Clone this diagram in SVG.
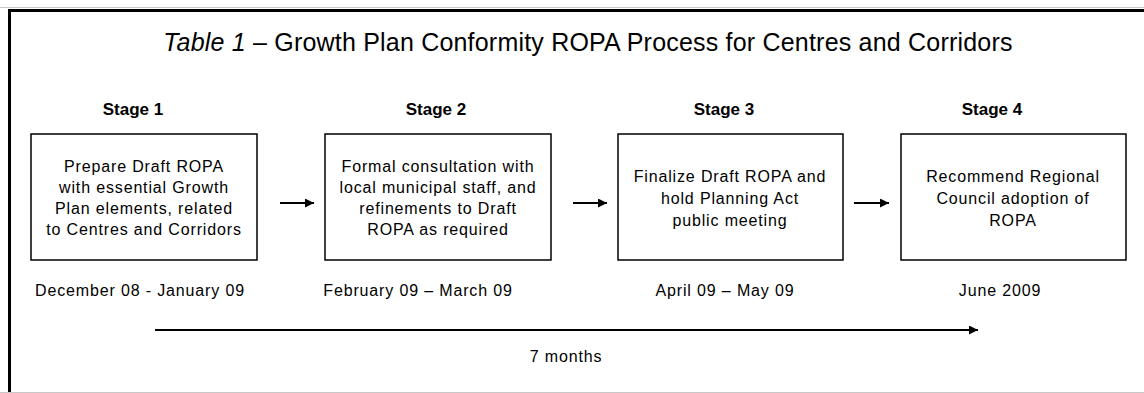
<svg xmlns="http://www.w3.org/2000/svg" width="1144" height="393" viewBox="0 0 1144 393">
<defs>
<style>
.t{font-family:"Liberation Sans",Arial,sans-serif;fill:#000}
.title{font-size:25px;letter-spacing:0.2px}
.stage{font-size:17px;font-weight:bold;text-anchor:middle}
.box{fill:#fff;stroke:#000;stroke-width:1.5}
.bt{font-size:16px;text-anchor:middle;letter-spacing:0.85px}
.date{font-size:16px;text-anchor:middle;letter-spacing:0.85px}
.conn{stroke:#000;stroke-width:2;fill:none}
</style>
<marker id="ah" viewBox="0 0 10 10" refX="10" refY="5" markerWidth="10" markerHeight="9" markerUnits="userSpaceOnUse" orient="auto">
<path d="M0,0 L10,5 L0,10 Z" fill="#000"/>
</marker>
</defs>
<rect x="0" y="0" width="1144" height="393" fill="#fff"/>
<g id="frame">
<line x1="0" y1="7.5" x2="1144" y2="7.5" stroke="#c8c8c8" stroke-width="1"/>
<line x1="8" y1="10.5" x2="1144" y2="10.5" stroke="#000" stroke-width="3"/>
<line x1="9.5" y1="9" x2="9.5" y2="393" stroke="#000" stroke-width="3"/>
<line x1="0" y1="392.5" x2="1144" y2="392.5" stroke="#c8c8c8" stroke-width="1"/>
</g>
<text class="t title" x="588" y="51" text-anchor="middle"><tspan font-style="italic">Table 1</tspan> – Growth Plan Conformity ROPA Process for Centres and Corridors</text>
<g id="stage1">
<text class="t stage" x="133" y="115">Stage 1</text>
<rect class="box" x="31" y="134" width="226" height="126"/>
<text class="t bt" x="144" y="172">Prepare Draft ROPA</text>
<text class="t bt" x="144" y="193">with essential Growth</text>
<text class="t bt" x="144" y="214">Plan elements, related</text>
<text class="t bt" x="144" y="235">to Centres and Corridors</text>
<text class="t date" x="140" y="296">December 08 - January 09</text>
</g>
<g id="stage2">
<text class="t stage" x="436" y="115">Stage 2</text>
<rect class="box" x="325" y="134" width="226" height="126"/>
<text class="t bt" x="438" y="172">Formal consultation with</text>
<text class="t bt" x="438" y="193">local municipal staff, and</text>
<text class="t bt" x="438" y="214">refinements to Draft</text>
<text class="t bt" x="438" y="235">ROPA as required</text>
<text class="t date" x="418" y="296">February 09 – March 09</text>
</g>
<g id="stage3">
<text class="t stage" x="724" y="115">Stage 3</text>
<rect class="box" x="618" y="134" width="225" height="126"/>
<text class="t bt" x="730" y="182">Finalize Draft ROPA and</text>
<text class="t bt" x="730" y="204">hold Planning Act</text>
<text class="t bt" x="730" y="226">public meeting</text>
<text class="t date" x="725" y="296">April 09 – May 09</text>
</g>
<g id="stage4">
<text class="t stage" x="992" y="115">Stage 4</text>
<rect class="box" x="901" y="134" width="225" height="126"/>
<text class="t bt" x="1013" y="182">Recommend Regional</text>
<text class="t bt" x="1013" y="204">Council adoption of</text>
<text class="t bt" x="1013" y="226">ROPA</text>
<text class="t date" x="1000" y="296">June 2009</text>
</g>
<g id="connectors">
<line class="conn" x1="280" y1="203" x2="314" y2="203" marker-end="url(#ah)"/>
<line class="conn" x1="573" y1="203" x2="607" y2="203" marker-end="url(#ah)"/>
<line class="conn" x1="854" y1="203" x2="889" y2="203" marker-end="url(#ah)"/>
<line class="conn" x1="155" y1="330" x2="978" y2="330" marker-end="url(#ah)"/>
</g>
<text class="t date" x="566" y="362">7 months</text>
</svg>
